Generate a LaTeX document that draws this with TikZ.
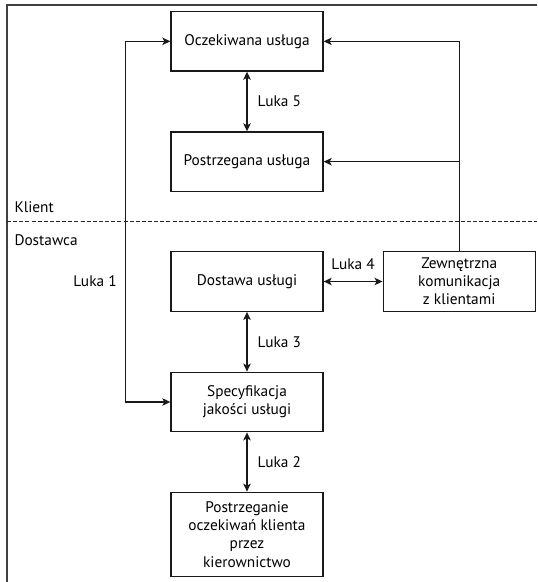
\documentclass[tikz,border=0pt]{standalone}
\usepackage{fontspec}
\setmainfont{PT Sans}
\usetikzlibrary{arrows.meta,positioning}

\tikzset{every picture/.style={line width=0.75pt}}
\tikzset{
  gapbox/.style={draw=black!90, line width=1pt, minimum width=114pt, minimum height=44.6pt,
    align=center, inner sep=2pt, font=\fontsize{11.5}{13.6}\selectfont},
  gaplabel/.style={inner sep=0pt, font=\fontsize{11.5}{13.6}\selectfont},
  gaplink/.style={draw=black!90, line width=1pt, -{Stealth[length=6pt,width=5.6pt,inset=1.5pt]}},
  twoway/.style={gaplink, {Stealth[length=6pt,width=5.6pt,inset=1.5pt]}-{Stealth[length=6pt,width=5.6pt,inset=1.5pt]}},
  frameline/.style={draw=black!75, line width=1.5pt},
  sideline/.style={draw=black!85, line width=0.9pt, dash pattern=on 3pt off 1.6pt}
}

\begin{document}
\begin{tikzpicture}[x=0.75pt,y=0.75pt,yscale=-1,xscale=1]
\useasboundingbox (0,0) rectangle (537,582);

% Frame
\draw[frameline] (537,5) -- (7,5) -- (7,582);
% Client / provider border
\draw[sideline] (7,221.5) -- (537,221.5);
\node[gaplabel, anchor=west] (klient) at (14,207) {Klient};
\node[gaplabel, anchor=west] (dostawca) at (14,240.5) {Dostawca};

% Text Node
\node[gapbox] (oczekiwana) at (247,41.3) {Oczekiwana usługa};
% Text Node
\node[gapbox] (postrzegana) at (247,161.7) {Postrzegana usługa};
% Text Node
\node[gapbox] (dostawa) at (247,281.5) {Dostawa usługi};
% Text Node
\node[gapbox] (zewnetrzna) at (459.2,281.5) {Zewnętrzna\\komunikacja\\z klientami};
% Text Node
\node[gapbox] (specyfikacja) at (247,402) {Specyfikacja\\jakości usługi};
% Text Node
\node[gapbox, minimum height=63.3pt] (kierownictwo) at (247,534.5) {Postrzeganie\\oczekiwań klienta\\przez\\kierownictwo};

% Connection
\draw[twoway] (oczekiwana.south) -- (postrzegana.north) node[gaplabel, midway, right=7.5pt] (luka5) {Luka 5};
% Connection
\draw[twoway] (dostawa.east) -- (zewnetrzna.west) node[gaplabel, midway, above=8pt] (luka4) {Luka 4};
% Connection
\draw[twoway] (dostawa.south) -- (specyfikacja.north) node[gaplabel, midway, right=7.5pt] (luka3) {Luka 3};
% Connection
\draw[twoway] (specyfikacja.south) -- (kierownictwo.north) node[gaplabel, midway, right=7.5pt] (luka2) {Luka 2};
% Connection
\draw[twoway] (oczekiwana.west) -- ++(-45,0) |- (specyfikacja.west);
\node[gaplabel] (luka1) at (95,281) {Luka 1};
% Connection
\draw[gaplink] (zewnetrzna.north) |- (oczekiwana.east);
% Connection
\draw[gaplink] (zewnetrzna.north |- postrzegana.east) -- (postrzegana.east);

\end{tikzpicture}
\end{document}
